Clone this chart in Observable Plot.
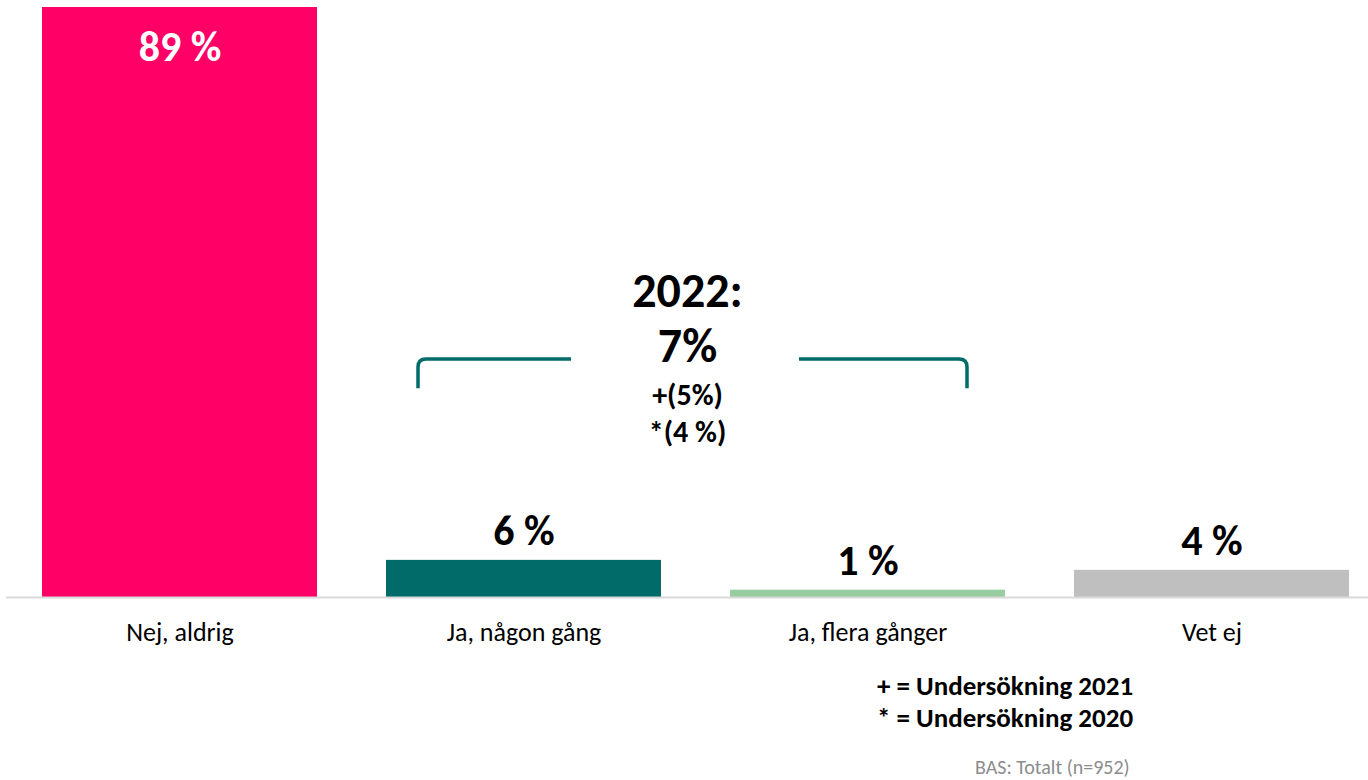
<!DOCTYPE html>
<html>
<head>
<meta charset="utf-8">
<script src="https://cdn.jsdelivr.net/npm/d3@7"></script>
<script src="https://cdn.jsdelivr.net/npm/@observablehq/plot@0.6"></script>
<style>
  html, body { margin: 0; padding: 0; background: #fff; }
  #wrap { position: relative; width: 1368px; height: 780px; font-family: Carlito, Lato, sans-serif; }
  .foot { position: absolute; left: 877px; font-weight: bold; font-size: 27px; line-height: 32px; color: #000; white-space: nowrap; }
  .base { position: absolute; left: 975px; top: 755px; font-size: 20px; line-height: 24px; color: #8c8c8c; white-space: nowrap; }
</style>
</head>
<body>
<div id="wrap"></div>
<script>
// ---- data ----
const categories = ["Nej, aldrig", "Ja, någon gång", "Ja, flera gånger", "Vet ej"];
const values = [89, 5.6, 1.1, 4.1];
const valueLabels = ["89 %", "6 %", "1 %", "4 %"];
const barColors = ["#FF0066", "#006B68", "#97CDA1", "#BFBFBF"];
const annotationLines = ["2022:", "7%", "+(5%)", "*(4 %)"];
const footnotes = ["+ = Undersökning 2021", "* = Undersökning 2020"];
const baseNote = "BAS: Totalt (n=952)";

(function () {
const rows = categories.map((c, i) => ({category: c, value: values[i], label: valueLabels[i], color: barColors[i]}));
const FONT = "Carlito, Lato, sans-serif";

const plot = Plot.plot({
  width: 1368,
  height: 660,
  marginTop: 7,
  marginBottom: 63,
  marginLeft: 6,
  marginRight: 0,
  style: {fontFamily: FONT, fontSize: "26px", color: "#000", background: "#fff"},
  x: {domain: categories, range: [42, 1350], paddingInner: 0.2, paddingOuter: 0, tickSize: 0, tickPadding: 25, label: null},
  y: {domain: [0, 89], axis: null},
  marks: [
    Plot.barY(rows, {x: "category", y: "value", fill: "color"}),
    Plot.ruleY([0], {stroke: "#d9d9d9", strokeWidth: 2}),
    Plot.text(rows.filter(d => d.value < 50), {x: "category", y: "value", text: "label", lineAnchor: "bottom", dy: -15, fontWeight: "bold", fontSize: 42, fill: "#000"}),
    Plot.text(rows.filter(d => d.value >= 50), {x: "category", y: "value", text: "label", lineAnchor: "bottom", dy: 53, fontWeight: "bold", fontSize: 42, fill: "#fff"})
  ]
});

const wrap = document.getElementById("wrap");
wrap.appendChild(plot);

// ---- annotation bracket and text, placed through the plot's scales ----
const xs = plot.scale("x");
const ys = plot.scale("y");
const svg = d3.select(plot);
const bl = xs.apply(categories[1]) + 32;
const br = xs.apply(categories[2]) + xs.bandwidth - 38;
const bt = ys.apply(35.9);
const bb = ys.apply(31.5);
const gapL = bl + 153, gapR = br - 168;
const r = 8;
const g = svg.append("g").attr("fill", "none").attr("stroke", "#006B68").attr("stroke-width", 3.5);
g.append("path").attr("d", `M${bl},${bb} L${bl},${bt + r} Q${bl},${bt} ${bl + r},${bt} L${gapL},${bt}`);
g.append("path").attr("d", `M${br},${bb} L${br},${bt + r} Q${br},${bt} ${br - r},${bt} L${gapR},${bt}`);

const cx = (bl + br) / 2 - 5;
const ann = [
  {t: annotationLines[0], v: 43.7, size: 48},
  {t: annotationLines[1], v: 35.4, size: 48},
  {t: annotationLines[2], v: 29.0, size: 30},
  {t: annotationLines[3], v: 23.4, size: 30}
];
svg.append("g").selectAll("text").data(ann).join("text")
  .attr("x", cx).attr("y", d => ys.apply(d.v))
  .attr("text-anchor", "middle").attr("font-weight", "bold")
  .attr("font-size", d => d.size).attr("font-family", FONT).attr("fill", "#000")
  .text(d => d.t);

// ---- footnotes below the SVG area ----
footnotes.forEach((f, i) => {
  const el = document.createElement("div");
  el.className = "foot";
  el.style.top = (670 + i * 32) + "px";
  el.textContent = f;
  wrap.appendChild(el);
});
const b = document.createElement("div");
b.className = "base";
b.textContent = baseNote;
wrap.appendChild(b);
})();
</script>
</body>
</html>
